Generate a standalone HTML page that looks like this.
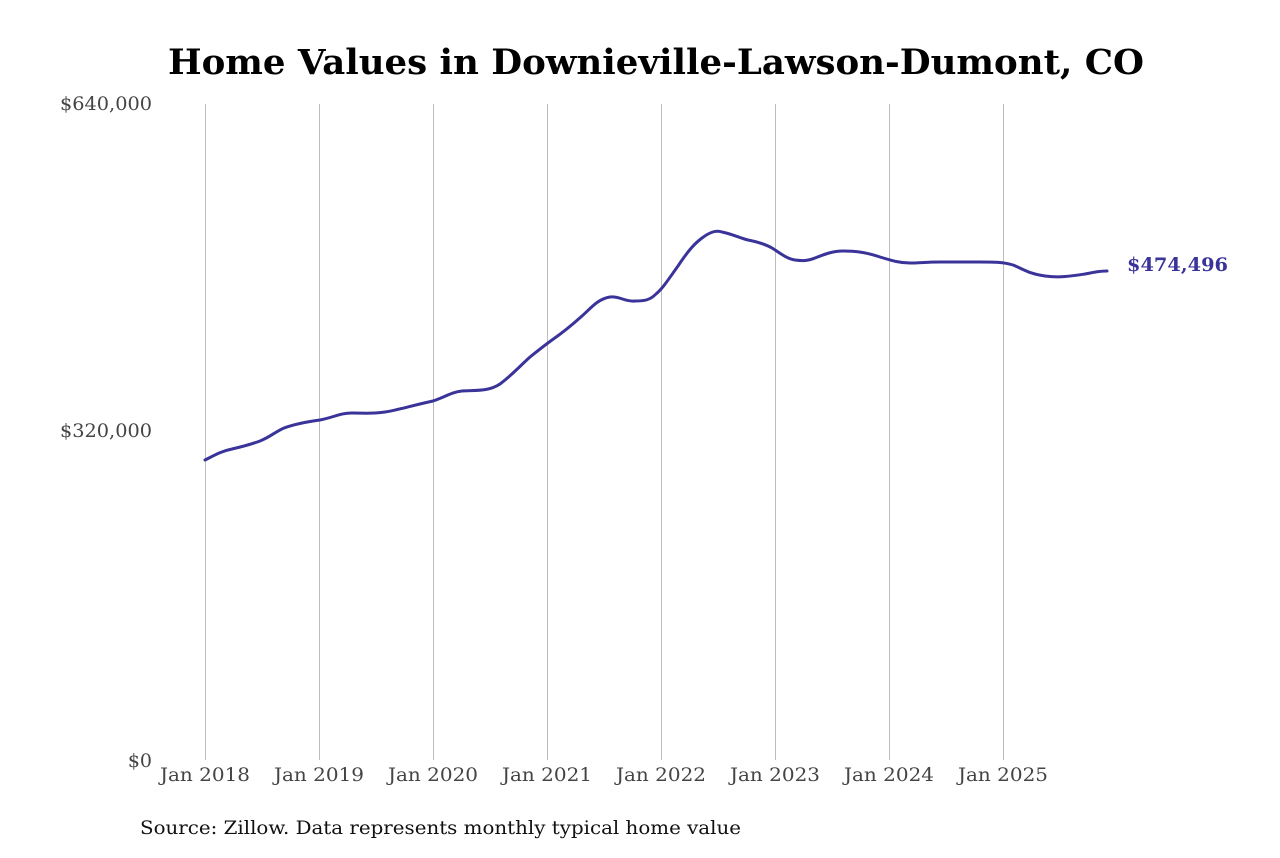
<!DOCTYPE html>
<html><head><meta charset="utf-8"><style>
html,body{margin:0;padding:0;background:#fff;}
body{width:1280px;height:853px;overflow:hidden;}
svg text{font-family:"DejaVu Serif","Liberation Serif",serif;}
</style></head><body>
<svg width="1280" height="853" viewBox="0 0 1280 853" xmlns="http://www.w3.org/2000/svg">
<rect width="1280" height="853" fill="#fff"/>
<text x="656" y="74" text-anchor="middle" font-size="35" font-weight="bold" fill="#000" textLength="976" lengthAdjust="spacingAndGlyphs">Home Values in Downieville-Lawson-Dumont, CO</text>
<g stroke="#bdbdbd" stroke-width="1">
<line x1="205.5" y1="104" x2="205.5" y2="760"/>
<line x1="319.5" y1="104" x2="319.5" y2="760"/>
<line x1="433.5" y1="104" x2="433.5" y2="760"/>
<line x1="547.5" y1="104" x2="547.5" y2="760"/>
<line x1="661.5" y1="104" x2="661.5" y2="760"/>
<line x1="775.5" y1="104" x2="775.5" y2="760"/>
<line x1="889.5" y1="104" x2="889.5" y2="760"/>
<line x1="1003.5" y1="104" x2="1003.5" y2="760"/>
</g>
<g font-size="19" fill="#444" text-anchor="end">
<text x="152" y="110" textLength="92" lengthAdjust="spacingAndGlyphs">$640,000</text>
<text x="152" y="437" textLength="92" lengthAdjust="spacingAndGlyphs">$320,000</text>
<text x="152" y="767">$0</text>
</g>
<g font-size="19" fill="#444" text-anchor="middle">
<text x="205" y="781" textLength="90" lengthAdjust="spacingAndGlyphs">Jan 2018</text>
<text x="319" y="781" textLength="90" lengthAdjust="spacingAndGlyphs">Jan 2019</text>
<text x="433" y="781" textLength="90" lengthAdjust="spacingAndGlyphs">Jan 2020</text>
<text x="547" y="781" textLength="90" lengthAdjust="spacingAndGlyphs">Jan 2021</text>
<text x="661" y="781" textLength="90" lengthAdjust="spacingAndGlyphs">Jan 2022</text>
<text x="775" y="781" textLength="90" lengthAdjust="spacingAndGlyphs">Jan 2023</text>
<text x="889" y="781" textLength="90" lengthAdjust="spacingAndGlyphs">Jan 2024</text>
<text x="1003" y="781" textLength="90" lengthAdjust="spacingAndGlyphs">Jan 2025</text>
</g>
<path fill="none" stroke="#3a3399" stroke-width="3" stroke-linejoin="round" stroke-linecap="round"
d="M205,460 C215,455 222,451 232,449 C245,446 252,444 260,441 C270,437 275,432 284,428 C295,424 305,422 320,420 C335,417 340,413 352,413 C365,413 372,414 385,412 C398,410 410,406 433,401 C445,397 452,392 462,391 C475,390 488,392 500,384 C512,375 520,366 530,357 C540,349 545,345 552,340 C565,331 572,325 582,316 C592,307 598,299 610,297 C620,296 625,302 635,301 C645,301 650,300 656,294 C663,288 668,280 678,266 C688,251 694,244 702,238 C710,232 716,230 722,232 C732,234 740,238 748,240 C758,242 765,244 772,248 C780,253 787,259 795,260 C803,261 808,261 815,258 C825,254 833,251 843,251 C855,251 865,252 880,257 C893,261 900,263 910,263 C920,263 925,262 940,262 C955,262 965,262 980,262 C995,262 1003,262 1013,265 C1025,270 1030,274 1045,276 C1060,278 1072,276 1085,274 C1095,272 1100,271 1107,271"/>
<text x="1127" y="271" font-size="19" font-weight="bold" fill="#3a3399" textLength="101" lengthAdjust="spacingAndGlyphs">$474,496</text>
<text x="140" y="834" font-size="19" fill="#111" textLength="601" lengthAdjust="spacingAndGlyphs">Source: Zillow. Data represents monthly typical home value</text>
</svg>
</body></html>
